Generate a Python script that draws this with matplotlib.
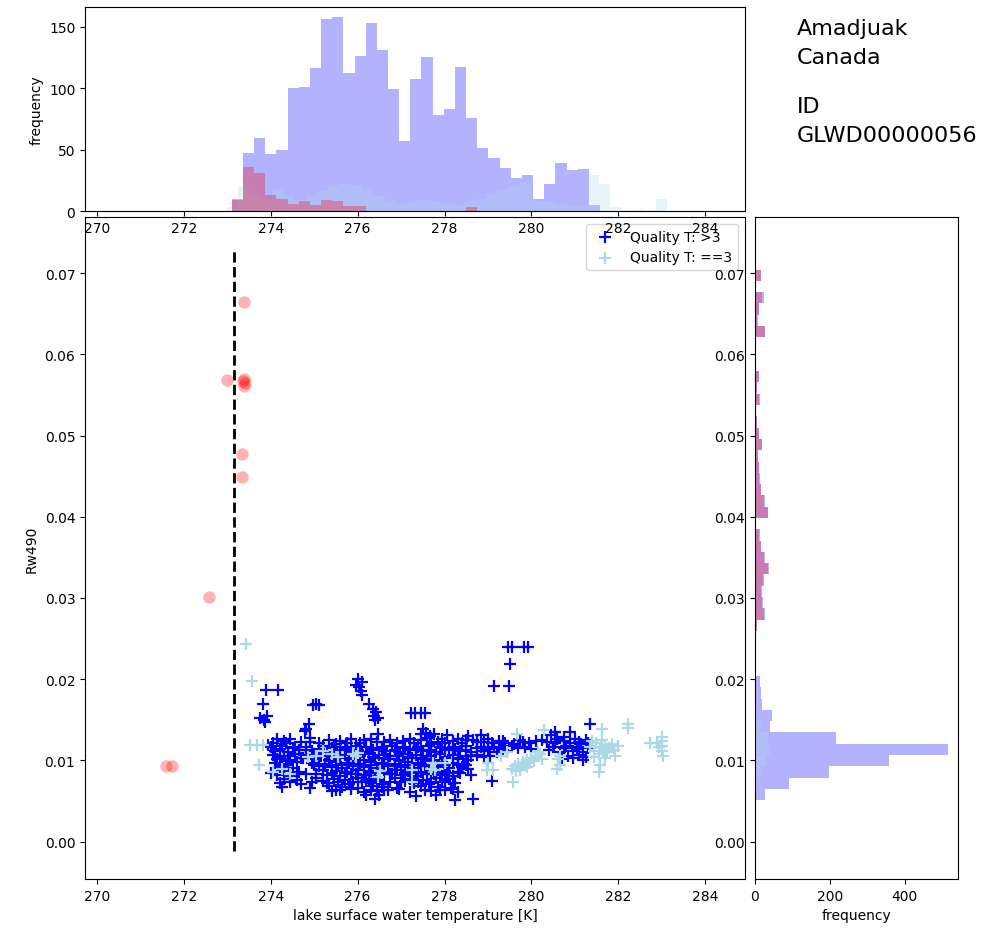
import numpy as np
import matplotlib
matplotlib.use("Agg")
import matplotlib.pyplot as plt

# lake info
lake_name = "Amadjuak\nCanada"
lake_id = "ID\nGLWD00000056"

# scatter: quality > 3 (temperature [K], Rw490)
blue_points = [
    # outliers above the cloud
    (273.88, 0.0187), (274.17, 0.0187), (273.81, 0.0169), (273.76, 0.0152),
    (273.84, 0.0150), (273.90, 0.0155), (273.86, 0.0147), (273.93, 0.0119),
    (274.98, 0.0168), (275.10, 0.0168), (275.04, 0.0169), (274.87, 0.0145),
    (274.82, 0.0139), (274.90, 0.0128), (274.78, 0.0136),
    (276.00, 0.0200), (276.10, 0.0196), (276.02, 0.0190), (276.08, 0.0186),
    (275.95, 0.0193), (276.09, 0.0180), (276.25, 0.0170), (276.35, 0.0163),
    (276.42, 0.0160), (276.38, 0.0155), (276.47, 0.0152), (276.40, 0.0150),
    (276.46, 0.0132), (277.22, 0.0158), (277.32, 0.0158), (277.45, 0.0158),
    (277.55, 0.0158), (277.50, 0.0139), (277.58, 0.0134), (277.66, 0.0130),
    (279.47, 0.0240), (279.56, 0.0240), (279.84, 0.0240), (279.93, 0.0240),
    (279.51, 0.0219), (279.15, 0.0192), (279.49, 0.0192),
    (280.55, 0.0135), (280.89, 0.0135), (281.35, 0.0145),
    # main cloud
    (277.45, 0.0132), (277.75, 0.0133), (278.05, 0.0131), (278.55, 0.0130),
    (278.85, 0.0131), (280.45, 0.0131), (280.75, 0.0129),
    (274.15, 0.0126), (274.45, 0.0127), (275.35, 0.0125), (275.85, 0.0127),
    (276.30, 0.0126), (276.75, 0.0125), (277.20, 0.0127), (277.60, 0.0128),
    (277.95, 0.0126), (278.30, 0.0127), (278.65, 0.0125), (279.00, 0.0127),
    (279.25, 0.0124), (279.75, 0.0125), (280.10, 0.0124), (280.60, 0.0126),
    (281.00, 0.0127), (281.25, 0.0125),
    (274.30, 0.0124), (274.90, 0.0123), (275.60, 0.0124), (276.15, 0.0125),
    (276.60, 0.0123), (277.05, 0.0124), (277.45, 0.0125), (277.85, 0.0123),
    (278.20, 0.0124), (278.50, 0.0125), (278.90, 0.0123), (279.35, 0.0124),
    (279.80, 0.0123), (280.25, 0.0125), (280.75, 0.0124), (281.10, 0.0123),
    (274.05, 0.0122), (274.35, 0.0121), (274.70, 0.0123), (275.10, 0.0122),
    (275.50, 0.0120), (275.75, 0.0122), (276.05, 0.0121), (276.45, 0.0123),
    (276.90, 0.0121), (277.30, 0.0122), (277.70, 0.0120), (278.00, 0.0122),
    (278.40, 0.0121), (278.75, 0.0123), (279.10, 0.0121), (279.40, 0.0122),
    (279.60, 0.0120), (279.95, 0.0121), (280.35, 0.0123), (280.55, 0.0121),
    (280.90, 0.0122), (281.15, 0.0120), (281.30, 0.0122),
    (274.00, 0.0116), (274.25, 0.0118), (274.55, 0.0117), (274.80, 0.0116),
    (275.20, 0.0118), (275.45, 0.0116), (275.70, 0.0117), (275.95, 0.0118),
    (276.20, 0.0116), (276.55, 0.0117), (276.80, 0.0118), (277.05, 0.0116),
    (277.40, 0.0117), (277.65, 0.0118), (277.90, 0.0116), (278.20, 0.0117),
    (278.50, 0.0118), (278.85, 0.0116), (279.15, 0.0117), (279.30, 0.0115),
    (279.55, 0.0118), (279.85, 0.0117), (280.50, 0.0116), (280.80, 0.0118),
    (281.05, 0.0117), (281.30, 0.0115),
    (274.20, 0.0114), (274.50, 0.0115), (274.80, 0.0113), (275.10, 0.0114),
    (275.40, 0.0115), (275.75, 0.0114), (276.00, 0.0113), (276.30, 0.0115),
    (276.55, 0.0114), (276.85, 0.0113), (277.10, 0.0115), (277.35, 0.0114),
    (277.65, 0.0113), (277.95, 0.0115), (278.25, 0.0114), (278.50, 0.0113),
    (278.75, 0.0115), (279.00, 0.0114), (279.35, 0.0113), (279.70, 0.0115),
    (280.00, 0.0114), (280.40, 0.0113), (280.75, 0.0115), (281.05, 0.0114),
    (274.10, 0.0112), (274.40, 0.0111), (274.65, 0.0113), (274.95, 0.0112),
    (275.30, 0.0111), (275.60, 0.0113), (275.85, 0.0112), (276.10, 0.0111),
    (276.35, 0.0113), (276.65, 0.0112), (276.95, 0.0111), (277.20, 0.0113),
    (277.50, 0.0112), (277.80, 0.0111), (278.10, 0.0113), (278.35, 0.0112),
    (278.60, 0.0111), (278.90, 0.0112), (279.20, 0.0110), (279.45, 0.0112),
    (280.65, 0.0111), (280.95, 0.0112), (281.20, 0.0110),
    (274.05, 0.0107), (274.30, 0.0106), (274.55, 0.0108), (274.85, 0.0107),
    (275.15, 0.0106), (275.45, 0.0108), (275.70, 0.0107), (275.95, 0.0106),
    (276.25, 0.0108), (276.50, 0.0107), (276.75, 0.0106), (277.05, 0.0108),
    (277.35, 0.0107), (277.60, 0.0106), (277.90, 0.0108), (278.20, 0.0107),
    (278.50, 0.0106), (278.75, 0.0107), (279.05, 0.0105), (280.85, 0.0106),
    (281.10, 0.0107), (281.25, 0.0104),
    (274.20, 0.0104), (274.40, 0.0105), (274.70, 0.0103), (275.00, 0.0104),
    (275.30, 0.0105), (275.55, 0.0104), (275.80, 0.0103), (276.05, 0.0105),
    (276.35, 0.0104), (276.60, 0.0103), (276.90, 0.0105), (277.15, 0.0104),
    (277.45, 0.0103), (277.70, 0.0105), (278.00, 0.0104), (278.30, 0.0103),
    (278.60, 0.0105), (278.90, 0.0104), (280.95, 0.0103),
    (274.15, 0.0102), (274.45, 0.0101), (274.75, 0.0103), (275.05, 0.0102),
    (275.35, 0.0101), (275.60, 0.0103), (275.90, 0.0102), (276.15, 0.0101),
    (276.40, 0.0103), (276.70, 0.0102), (276.95, 0.0101), (277.25, 0.0103),
    (277.50, 0.0102), (277.75, 0.0101), (278.00, 0.0103), (278.30, 0.0102),
    (278.55, 0.0100), (280.70, 0.0102), (281.20, 0.0101),
    (274.10, 0.0097), (274.35, 0.0096), (274.60, 0.0098), (274.95, 0.0097),
    (275.25, 0.0096), (275.50, 0.0098), (275.80, 0.0097), (276.05, 0.0096),
    (276.30, 0.0098), (276.55, 0.0097), (276.85, 0.0096), (277.10, 0.0098),
    (277.40, 0.0097), (277.65, 0.0096), (277.95, 0.0098), (278.20, 0.0097),
    (278.45, 0.0096), (278.50, 0.0094),
    (274.25, 0.0094), (274.40, 0.0095), (275.00, 0.0094), (275.25, 0.0093),
    (275.55, 0.0095), (275.75, 0.0094), (276.00, 0.0093), (276.30, 0.0095),
    (276.60, 0.0094), (276.85, 0.0093), (277.15, 0.0095), (277.45, 0.0094),
    (277.70, 0.0093), (278.00, 0.0095), (278.30, 0.0094),
    (274.20, 0.0092), (274.50, 0.0091), (275.10, 0.0093), (275.40, 0.0092),
    (275.65, 0.0091), (275.90, 0.0093), (276.15, 0.0092), (276.45, 0.0091),
    (276.70, 0.0093), (277.00, 0.0092), (277.30, 0.0091), (277.55, 0.0093),
    (277.85, 0.0092), (278.10, 0.0091), (278.40, 0.0092), (278.55, 0.0089),
    (274.30, 0.0087), (274.65, 0.0086), (275.20, 0.0088), (275.50, 0.0087),
    (275.75, 0.0086), (276.00, 0.0088), (276.30, 0.0087), (276.60, 0.0086),
    (276.90, 0.0088), (277.15, 0.0087), (277.45, 0.0086), (277.70, 0.0088),
    (278.00, 0.0087), (278.30, 0.0086), (278.62, 0.0082),
    (274.00, 0.0084), (274.60, 0.0085), (275.05, 0.0083), (275.40, 0.0084),
    (275.70, 0.0085), (275.95, 0.0083), (276.25, 0.0084), (276.50, 0.0085),
    (276.80, 0.0083), (277.10, 0.0084), (277.40, 0.0085), (277.75, 0.0083),
    (278.05, 0.0084), (278.35, 0.0085),
    (274.15, 0.0082), (274.45, 0.0081), (274.80, 0.0083), (275.30, 0.0082),
    (275.60, 0.0081), (275.85, 0.0083), (276.15, 0.0082), (276.40, 0.0081),
    (276.75, 0.0083), (277.05, 0.0082), (277.35, 0.0081), (277.60, 0.0083),
    (277.90, 0.0082), (278.20, 0.0081),
    (274.30, 0.0077), (274.60, 0.0076), (275.05, 0.0078), (275.45, 0.0077),
    (275.70, 0.0076), (276.00, 0.0078), (276.25, 0.0077), (276.50, 0.0076),
    (276.85, 0.0078), (277.20, 0.0077), (277.50, 0.0076), (277.80, 0.0078),
    (278.10, 0.0077), (279.09, 0.0075),
    (274.45, 0.0074), (275.20, 0.0075), (275.55, 0.0073), (275.90, 0.0074),
    (276.20, 0.0075), (276.45, 0.0073), (276.75, 0.0074), (277.10, 0.0075),
    (277.40, 0.0073), (277.70, 0.0074), (278.00, 0.0075),
    (274.20, 0.0072), (274.70, 0.0071), (274.95, 0.0073), (275.30, 0.0072),
    (275.80, 0.0071), (276.10, 0.0073), (276.35, 0.0072), (276.60, 0.0071),
    (277.00, 0.0073), (277.30, 0.0072), (277.65, 0.0071), (277.95, 0.0073),
    (278.25, 0.0072),
    (274.25, 0.0067), (274.90, 0.0066), (275.35, 0.0068), (275.65, 0.0067),
    (276.00, 0.0066), (276.30, 0.0068), (276.55, 0.0067), (276.90, 0.0066),
    (277.45, 0.0068), (277.85, 0.0067), (278.15, 0.0066),
    (275.50, 0.0064), (275.85, 0.0065), (276.30, 0.0063), (276.60, 0.0064),
    (276.95, 0.0065), (277.55, 0.0063), (277.90, 0.0064), (278.20, 0.0065),
    (275.40, 0.0062), (275.60, 0.0063), (276.15, 0.0061), (276.45, 0.0062),
    (276.70, 0.0063), (277.20, 0.0061), (277.70, 0.0062), (278.00, 0.0063),
    (278.30, 0.0061),
    (276.20, 0.0057), (276.50, 0.0058), (277.35, 0.0056), (277.80, 0.0057),
    (276.40, 0.0053), (278.25, 0.0051), (278.66, 0.0053),
]

# scatter: quality == 3
lightblue_points = [
    (273.43, 0.0243), (273.57, 0.0198), (273.52, 0.0119), (273.68, 0.0119),
    (273.83, 0.0119), (273.72, 0.0094), (274.06, 0.0086), (274.25, 0.0089),
    (274.45, 0.0083), (274.85, 0.0104), (275.05, 0.0105), (275.20, 0.0112),
    (275.40, 0.0108), (275.55, 0.0104), (275.90, 0.0108), (275.96, 0.0106),
    (276.00, 0.0109), (276.47, 0.0080), (276.52, 0.0087), (277.24, 0.0088),
    (277.24, 0.0074), (277.70, 0.0089), (277.73, 0.0097), (277.77, 0.0088),
    (278.00, 0.0097), (278.97, 0.0088), (279.00, 0.0097), (279.12, 0.0088),
    (279.30, 0.0106), (279.45, 0.0110),
    (279.56, 0.0090), (279.62, 0.0093), (279.70, 0.0096), (279.75, 0.0091),
    (279.80, 0.0098), (279.85, 0.0094), (279.90, 0.0100), (279.95, 0.0097),
    (280.00, 0.0103), (280.05, 0.0099), (280.10, 0.0105), (280.20, 0.0108),
    (280.15, 0.0111), (279.65, 0.0087), (279.75, 0.0088), (279.90, 0.0092),
    (280.25, 0.0102), (279.58, 0.0073), (279.66, 0.0133), (280.28, 0.0137),
    (280.62, 0.0102), (280.65, 0.0094), (280.60, 0.0090), (280.66, 0.0106),
    (281.35, 0.0117), (281.45, 0.0112), (281.50, 0.0121), (281.55, 0.0108),
    (281.60, 0.0117), (281.62, 0.0125), (281.65, 0.0112), (281.70, 0.0119),
    (281.75, 0.0110), (281.80, 0.0115), (281.85, 0.0120), (281.90, 0.0113),
    (281.62, 0.0139), (281.93, 0.0106), (281.58, 0.0094), (281.56, 0.0086),
    (281.45, 0.0104), (281.70, 0.0103), (281.40, 0.0124), (282.00, 0.0118),
    (282.22, 0.0145), (282.22, 0.0140), (282.73, 0.0121), (282.90, 0.0121),
    (283.01, 0.0129), (283.01, 0.0124), (283.01, 0.0118), (283.01, 0.0112),
    (283.03, 0.0106), (282.95, 0.0116),
]

# flagged points (red circles)
red_points = [
    (273.38, 0.0665), (272.99, 0.0568), (273.38, 0.0569), (273.40, 0.0565),
    (273.38, 0.0561), (273.36, 0.0567), (273.34, 0.0477), (273.34, 0.0449),
    (272.58, 0.0301), (271.58, 0.0093), (271.72, 0.0093),
]

# top histogram (temperature), counts per bin
top_start, top_width = 273.10, 0.257
blue_top = [10, 47, 59, 46, 50, 100, 101, 116, 156, 158, 112, 126, 153, 131,
            99, 57, 107, 125, 78, 83, 117, 76, 51, 43, 35, 27, 29, 10, 22, 39,
            33, 34, 5]
red_top = [9, 36, 31, 13, 10, 6, 8, 5, 9, 8, 4, 4, 0, 0, 0, 0, 0, 0, 0, 0, 0, 3]
lb_top_start, lb_top_width = 272.98, 0.26
lightblue_top = [3, 20, 14, 10, 18, 12, 9, 12, 16, 20, 22, 21, 18, 12, 8, 6, 7,
                 9, 8, 6, 5, 8, 10, 14, 18, 20, 24, 8, 8, 6, 4, 4, 29, 22, 3,
                 1, 2, 1, 10]

# right histogram (Rw490), counts per bin
right_start, right_width = 0.0051, 0.00139
blue_right = [28, 91, 197, 357, 516, 215, 39, 46, 20, 15, 13, 3, 2,
              2, 3, 6, 28, 21, 18, 24, 37, 27, 16, 13, 4, 36, 26, 17, 13, 11,
              9, 20, 11, 6, 4, 13, 6, 11, 3, 4, 4, 27, 7, 11, 23, 4, 16]
red_right = [0, 0, 0, 0, 0, 0, 0, 4, 0, 0, 0, 0, 0,
             1, 2, 5, 25, 20, 16, 22, 35, 25, 15, 12, 3, 35, 25, 15, 12, 10,
             8, 18, 10, 5, 3, 12, 5, 10, 2, 3, 3, 26, 6, 10, 20, 3, 15]
lightblue_right = [0, 5, 15, 30, 40, 35, 15, 5]

xlim = (269.72, 284.92)
ylim = (-0.0046, 0.0769)
freeze_t = 273.15

fig = plt.figure(figsize=(9.82, 9.37), dpi=100)
ax = fig.add_axes([0.0866, 0.0608, 0.672, 0.7065])
ax_top = fig.add_axes([0.0866, 0.7737, 0.672, 0.2177])
ax_right = fig.add_axes([0.7688, 0.0608, 0.2067, 0.7065])

bt, brw = zip(*blue_points)
lt, lrw = zip(*lightblue_points)
rt, rrw = zip(*red_points)

ax.scatter(bt, brw, marker="+", color="blue", s=70, linewidths=1.6,
           label="Quality T: >3")
ax.scatter(lt, lrw, marker="+", color="lightblue", s=70, linewidths=1.6,
           label="Quality T: ==3")
ax.scatter(rt, rrw, marker="o", color="red", alpha=0.3, s=80, linewidths=0)
ax.vlines(freeze_t, -0.0011, 0.0727, colors="black", linestyles="--", lw=2)
ax.set_xlim(*xlim)
ax.set_ylim(*ylim)
ax.set_xticks(np.arange(270, 285, 2))
ax.set_xlabel("lake surface water temperature [K]")
ax.set_ylabel("Rw490")
ax.legend(loc="upper right")

def edges(start, width, n):
    return start + width * np.arange(n + 1)

ax_top.stairs(blue_top, edges(top_start, top_width, len(blue_top)),
              fill=True, color="blue", alpha=0.3, lw=0)
ax_top.stairs(lightblue_top, edges(lb_top_start, lb_top_width, len(lightblue_top)),
              fill=True, color="lightblue", alpha=0.3, lw=0)
ax_top.stairs(red_top, edges(top_start, top_width, len(red_top)),
              fill=True, color="red", alpha=0.3, lw=0)
ax_top.set_xlim(*xlim)
ax_top.set_xticks(np.arange(270, 285, 2))
ax_top.set_yticks([0, 50, 100, 150])
ax_top.set_ylabel("frequency")

ax_right.stairs(blue_right, edges(right_start, right_width, len(blue_right)),
                orientation="horizontal", fill=True, color="blue", alpha=0.3, lw=0)
ax_right.stairs(lightblue_right, edges(right_start, right_width, len(lightblue_right)),
                orientation="horizontal", fill=True, color="lightblue", alpha=0.3, lw=0)
ax_right.stairs(red_right, edges(right_start, right_width, len(red_right)),
                orientation="horizontal", fill=True, color="red", alpha=0.3, lw=0)
ax_right.set_ylim(*ylim)
ax_right.set_xlim(left=0)
ax_right.set_xlabel("frequency")

fig.text(0.8116, 0.980, lake_name, fontsize=16, va="top", linespacing=1.6)
fig.text(0.8116, 0.897, lake_id, fontsize=16, va="top", linespacing=1.6)

fig.savefig("out.png", dpi=100)
